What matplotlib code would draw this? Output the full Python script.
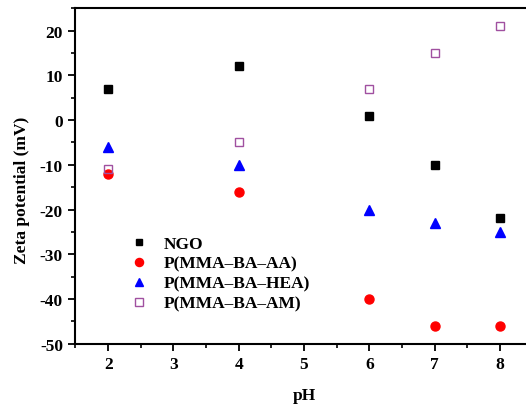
import numpy as np
import matplotlib
matplotlib.use("Agg")
import matplotlib.pyplot as plt
from matplotlib.ticker import MultipleLocator

plt.rcParams['font.family'] = ['Liberation Serif', 'DejaVu Serif']
plt.rcParams['font.weight'] = 'bold'
plt.rcParams['axes.unicode_minus'] = False

ph = [2, 4, 6, 7, 8]
ngo = [7, 12, 1, -10, -22]
aa = [-12, -16, -40, -46, -46]
hea = [-6, -10, -20, -23, -25]
am = [-11, -5, 7, 15, 21]

fig = plt.figure(figsize=(5.26, 4.06), dpi=100)
ax = fig.add_axes([0.1435, 0.151, 0.869, 0.826])

ax.plot(ph, ngo, 's', color='black', ms=5.5, label='NGO')
ax.plot(ph, aa, 'o', color='red', ms=6.5, label='P(MMA\u2013BA\u2013AA)')
ax.plot(ph, hea, '^', color='blue', ms=7, label='P(MMA\u2013BA\u2013HEA)')
ax.plot(ph, am, 's', mfc='none', mec='#a050a0', mew=1.0, ms=6, label='P(MMA\u2013BA\u2013AM)')

ax.set_xlim(1.5, 8.5)
ax.set_ylim(-50, 25)
ax.set_xticks([2, 3, 4, 5, 6, 7, 8])
ax.set_yticks(np.arange(-50, 21, 10))
ax.xaxis.set_minor_locator(MultipleLocator(0.5))
ax.yaxis.set_minor_locator(MultipleLocator(5))
ax.tick_params(which='major', direction='out', length=5, width=1.3, labelsize=12.5, pad=4)
ax.tick_params(which='minor', direction='out', length=3, width=1.2)
for s in ax.spines.values():
    s.set_linewidth(1.5)

ax.set_xlabel('pH', fontsize=12.5, fontweight='bold', labelpad=11)
ax.set_ylabel('Zeta potential (mV)', fontsize=12.5, fontweight='bold')
ax.yaxis.set_label_coords(-0.10, 0.46)

ax.legend(loc='upper left', bbox_to_anchor=(0.116, 0.322), frameon=False,
          fontsize=12.5, markerscale=0.9, handlelength=1.2, handletextpad=0.8,
          labelspacing=0.22, borderpad=0, borderaxespad=0)

fig.savefig('out.png', dpi=100)
